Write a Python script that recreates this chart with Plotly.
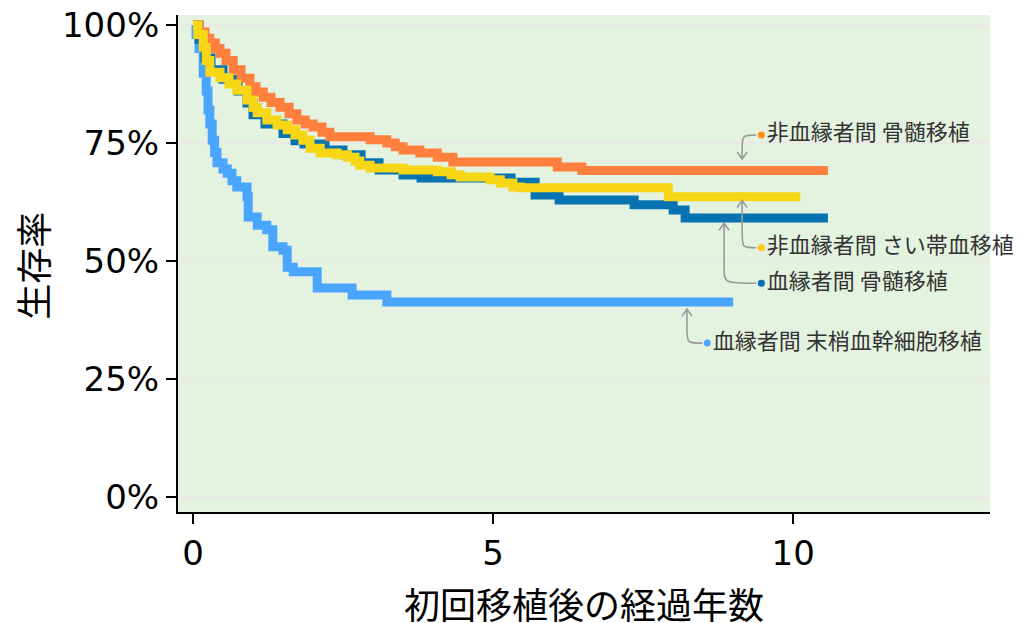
import plotly.graph_objects as go

# Kaplan-Meier style survival curves (years, survival %)
t_nonrel_bm = [0, 0.1, 0.2, 0.28, 0.37, 0.45, 0.55, 0.67, 0.8, 0.95, 1.05, 1.17, 1.3, 1.45, 1.6, 1.73,
               1.87, 2.0, 2.15, 2.28, 2.95, 3.23, 3.37, 3.5, 3.78, 4.07, 4.33, 6.07, 6.48, 10.58]
s_nonrel_bm = [100, 98.5, 97.2, 96.2, 95.0, 94.0, 92.5, 90.5, 88.7, 86.9, 85.8, 84.7, 83.6, 82.6, 81.2, 79.9,
               79.0, 78.4, 77.3, 76.3, 75.7, 75.0, 74.2, 73.5, 72.9, 72.0, 71.0, 69.9, 69.2, 69.2]

t_nonrel_cb = [0, 0.08, 0.17, 0.22, 0.28, 0.45, 0.6, 0.73, 0.9, 1.0, 1.07, 1.23, 1.4, 1.57, 1.7, 1.83, 1.95,
               2.12, 2.4, 2.57, 2.7, 2.78, 2.95, 3.5, 4.07, 4.3, 4.45, 4.95, 5.12, 5.33, 5.45, 7.92, 10.12]
s_nonrel_cb = [100, 98.0, 95.3, 92.5, 90.0, 88.8, 87.5, 86.2, 84.1, 82.5, 81.4, 79.9, 78.8, 77.8, 76.7, 75.6, 73.9,
               72.9, 72.5, 72.0, 71.2, 70.3, 69.7, 69.3, 68.9, 68.3, 67.8, 67.2, 66.5, 65.7, 65.5, 63.6, 63.6]

t_rel_bm = [0, 0.1, 0.2, 0.3, 0.5, 0.75, 0.9, 1.0, 1.2, 1.5, 1.7, 1.85, 2.2, 2.5, 2.8, 3.1, 3.5, 3.8,
            5.3, 5.7, 6.1, 7.35, 8.0, 8.2, 10.58]
s_rel_bm = [100, 97.0, 93.0, 90.5, 88.5, 86.0, 83.5, 81.0, 79.0, 77.0, 75.5, 74.8, 73.5, 72.5, 70.8, 69.3, 68.2, 67.6,
            66.7, 64.0, 62.9, 61.9, 60.8, 59.1, 59.1]

t_rel_pb = [0, 0.05, 0.1, 0.17, 0.22, 0.25, 0.28, 0.32, 0.36, 0.4, 0.5, 0.57, 0.65, 0.73, 0.9, 0.92, 1.07,
            1.23, 1.33, 1.5, 1.57, 1.67, 2.07, 2.65, 3.23, 9.0]
s_rel_pb = [100, 98.0, 95.0, 89.8, 86.0, 82.0, 79.0, 75.6, 73.0, 70.8, 69.5, 68.6, 67.0, 65.7, 63.6, 59.3, 57.6,
            56.6, 53.0, 52.3, 48.7, 47.7, 44.3, 42.8, 41.3, 41.3]

labels = ["血縁者間 末梢血幹細胞移植", "血縁者間 骨髄移植", "非血縁者間 骨髄移植", "非血縁者間 さい帯血移植"]
colors = ["#4aa5ff", "#0773b3", "#ff7f3f", "#f6d615"]
dot_colors = ["#4da6ff", "#0a6ebd", "#ff9319", "#ffc70f"]
# label dot position / arrow tip position (data units)
label_x = [8.57, 9.47, 9.47, 9.47]
label_y = [32.6, 45.3, 76.7, 52.8]
tip_x = [8.23, 8.85, 9.15, 9.15]
tip_y = [39.8, 58.0, 71.6, 62.8]

y_ticks = [0, 25, 50, 75, 100]
y_ticktext = ["0%", "25%", "50%", "75%", "100%"]
x_ticks = [0, 5, 10]
x_title = "初回移植後の経過年数"
y_title = "生存率"

series = [(t_rel_pb, s_rel_pb), (t_rel_bm, s_rel_bm), (t_nonrel_bm, s_nonrel_bm), (t_nonrel_cb, s_nonrel_cb)]

xr = [-0.25, 13.28]
yr = [-3.18, 102.12]
PX = (xr[1] - xr[0]) / 812  # data per pixel
PY = (yr[1] - yr[0]) / 497

fig = go.Figure()
for (t, s), c in zip(series, colors):
    fig.add_trace(go.Scatter(x=t, y=s, mode="lines", line=dict(color=c, width=9, shape="hv"),
                             showlegend=False, hoverinfo="skip"))

for i in range(4):
    fig.add_trace(go.Scatter(x=[label_x[i]], y=[label_y[i]], mode="markers+text", text=[labels[i]],
                             textposition="middle right", cliponaxis=False,
                             marker=dict(color=dot_colors[i], size=7),
                             textfont=dict(family="Noto Sans CJK JP", size=22, color="#333333"),
                             showlegend=False, hoverinfo="skip"))
    # curved gray arrow from dot to line
    sx, sy = label_x[i] - 5 * PX, label_y[i]
    tx, ty = tip_x[i], tip_y[i]
    d = 1 if ty > sy else -1
    ry = 16 * PY
    path = (f"M {sx},{sy} C {tx},{sy} {tx},{sy} {tx},{sy + d * ry} L {tx},{ty} "
            f"M {tx - 5 * PX},{ty - d * 7 * PY} L {tx},{ty} L {tx + 5 * PX},{ty - d * 7 * PY}")
    fig.add_shape(type="path", path=path, xref="x", yref="y", line=dict(color="#9a9a9a", width=1.6))

# axis titles as annotations (exact placement)
fig.add_annotation(text=x_title, xref="paper", yref="paper", x=0.5, y=-0.183, xanchor="center",
                   yanchor="middle", showarrow=False, font=dict(family="Noto Sans CJK JP", size=36, color="black"))
fig.add_annotation(text=y_title, xref="paper", yref="paper", x=-0.18, y=0.495, xanchor="center",
                   yanchor="middle", textangle=-90, showarrow=False,
                   font=dict(family="Noto Sans CJK JP", size=36, color="black"))

# page body has an 8px margin; figure offset so plot area lands at 178..990 x 15..512
fig.update_layout(
    width=1013, height=615,
    margin=dict(l=170, r=31, t=7, b=111),
    plot_bgcolor="#e4f2e0", paper_bgcolor="white",
    font=dict(family="DejaVu Sans", color="black"),
)
fig.update_xaxes(range=xr, tickvals=x_ticks, showgrid=False, zeroline=False, automargin=False,
                 ticklabeloverflow="allow",
                 showline=True, linecolor="black", linewidth=2, ticks="outside", ticklen=10, tickwidth=2,
                 tickcolor="black", tickfont=dict(size=34))
fig.update_yaxes(range=yr, tickvals=y_ticks, ticktext=y_ticktext, showgrid=True, gridcolor="#ebe8e8",
                 gridwidth=2, zeroline=False, showline=True, linecolor="black", linewidth=2, ticks="outside",
                 ticklen=10, tickwidth=2, tickcolor="black", tickfont=dict(size=34), automargin=False,
                 ticklabeloverflow="allow")

fig.write_html("out.html")
